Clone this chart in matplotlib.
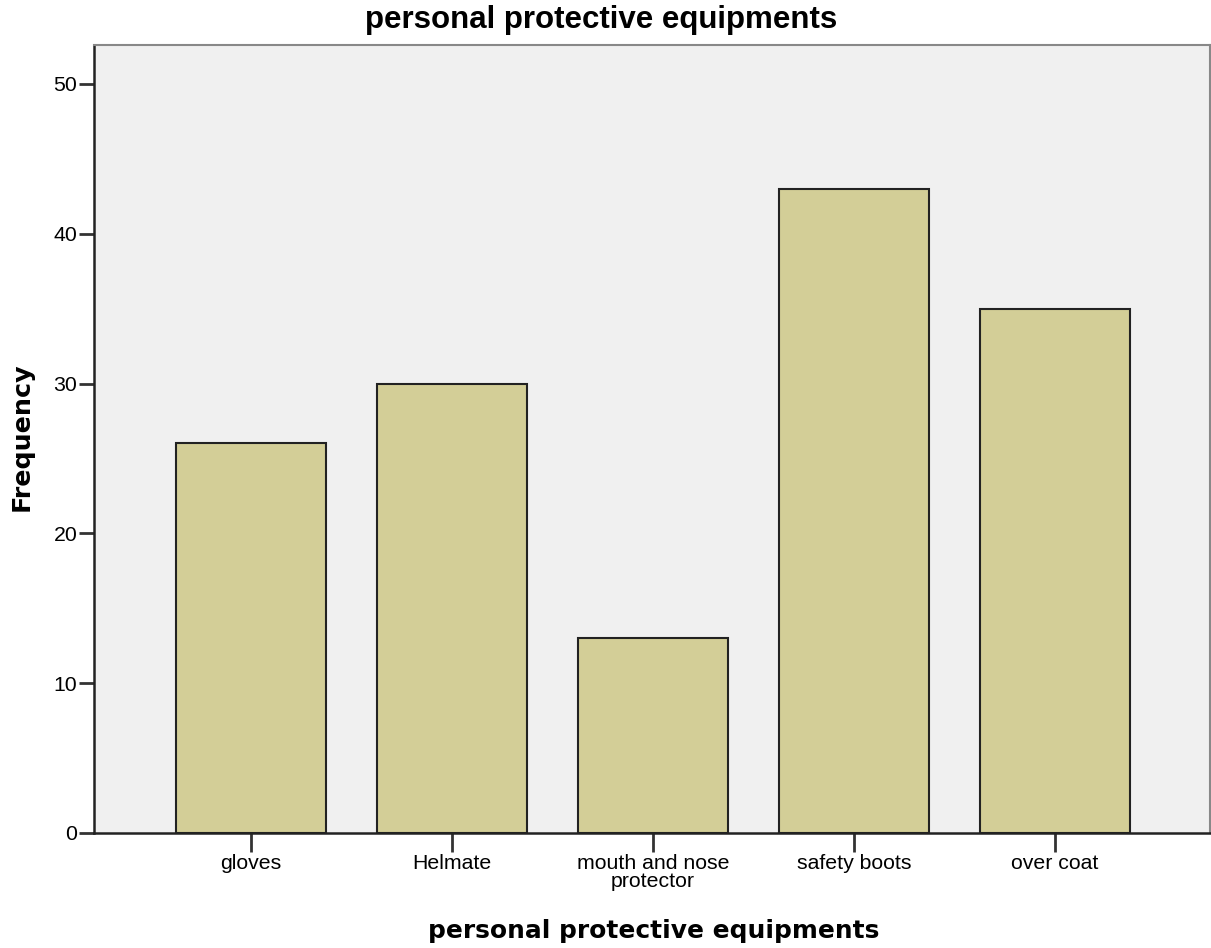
import matplotlib
matplotlib.use("Agg")
import matplotlib.pyplot as plt

categories = ["gloves", "Helmate", "mouth and nose\nprotector", "safety boots", "over coat"]
frequencies = [26, 30, 13, 43, 35]
yticks = [0, 10, 20, 30, 40, 50]

fig = plt.figure(figsize=(12.11, 9.48), dpi=100)
ax = fig.add_axes([94/1211, 115/948, 1116/1211, 788/948])
ax.set_facecolor("#F0F0F0")

x = list(range(len(categories)))
ax.bar(x, frequencies, width=0.75, color="#D3CE97", edgecolor="#222222", linewidth=1.5, zorder=3)

ax.set_xlim(-0.781, 4.771)
ax.set_ylim(0, 52.6)
ax.set_yticks(yticks)
ax.set_xticks(x)
ax.set_xticklabels(categories, fontfamily="Liberation Sans", fontsize=15.3, linespacing=0.95)
ax.set_yticklabels([str(v) for v in yticks], fontfamily="Liberation Sans", fontsize=15.3)
ax.tick_params(axis="y", length=11, width=2, color="#333333", pad=1)
ax.tick_params(axis="x", length=14, width=2, color="#333333", pad=1)

for s in ["left", "bottom"]:
    ax.spines[s].set_color("#222222")
    ax.spines[s].set_linewidth(1.8)
for s in ["top", "right"]:
    ax.spines[s].set_color("#888888")
    ax.spines[s].set_linewidth(1.5)

fig.text(601/1211, 1 - 20/948, "personal protective equipments", ha="center", va="center",
         fontfamily="Liberation Sans", fontweight="bold", fontsize=22.5)
fig.text(654/1211, 1 - 931/948, "personal protective equipments", ha="center", va="center",
         fontfamily="DejaVu Sans", fontweight="bold", fontsize=17.9)
fig.text(22/1211, 1 - 437/948, "Frequency", ha="center", va="center", rotation=90,
         fontfamily="DejaVu Sans", fontweight="bold", fontsize=18.3)

fig.savefig("out.png", dpi=100, facecolor="white")
